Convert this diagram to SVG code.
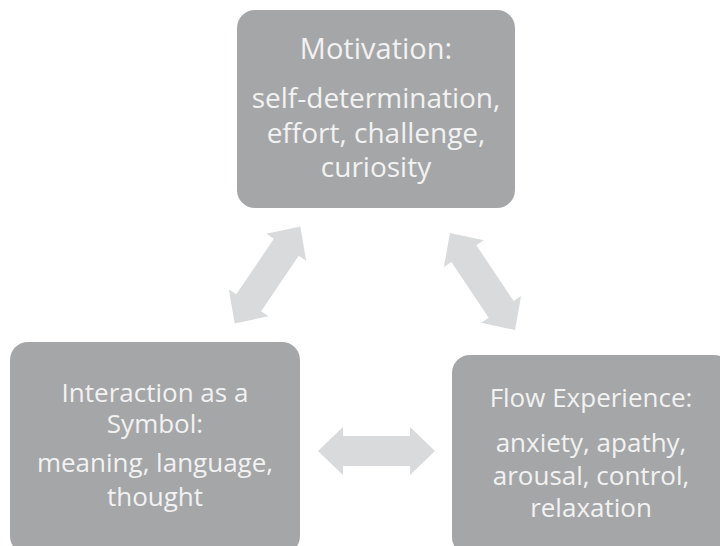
<svg xmlns="http://www.w3.org/2000/svg" width="720" height="546" viewBox="0 0 720 546">
<defs>
<style>
.box{fill:#A5A6A8;}
.txt{font-family:"Open Sans","Liberation Sans",sans-serif;font-size:26px;fill:#F2F2F2;text-anchor:middle;}
.big{font-size:28px;}
.arr{fill:#D9DADB;}
</style>
<path id="dbl" d="M -58.5 0 L -33.5 -24 L -33.5 -15 L 33.5 -15 L 33.5 -24 L 58.5 0 L 33.5 24 L 33.5 15 L -33.5 15 L -33.5 24 Z"/>
</defs>
<rect width="720" height="546" fill="#FFFFFF"/>
<g id="connectors">
<use href="#dbl" class="arr" transform="translate(267.5,275) rotate(-55.9)"/>
<use href="#dbl" class="arr" transform="translate(482.5,281.5) rotate(56.2)"/>
<use href="#dbl" class="arr" transform="translate(376.5,451)"/>
</g>
<g id="motivation">
<rect class="box" x="237" y="10" width="278" height="198" rx="18"/>
<text class="txt" x="376" y="59" style="font-size:29px">Motivation:</text>
<text class="txt big" x="376" y="108">self-determination,</text>
<text class="txt big" x="376" y="143">effort, challenge,</text>
<text class="txt big" x="376" y="177">curiosity</text>
</g>
<g id="interaction">
<rect class="box" x="10" y="342" width="290" height="212" rx="18"/>
<text class="txt" x="155" y="402">Interaction as a</text>
<text class="txt" x="155" y="433">Symbol:</text>
<text class="txt" x="155" y="472">meaning, language,</text>
<text class="txt" x="155" y="506">thought</text>
</g>
<g id="flow">
<rect class="box" x="452" y="355" width="280" height="200" rx="18"/>
<text class="txt" x="591" y="407">Flow Experience:</text>
<text class="txt" x="591" y="452">anxiety, apathy,</text>
<text class="txt" x="591" y="485">arousal, control,</text>
<text class="txt" x="591" y="517">relaxation</text>
</g>
</svg>
